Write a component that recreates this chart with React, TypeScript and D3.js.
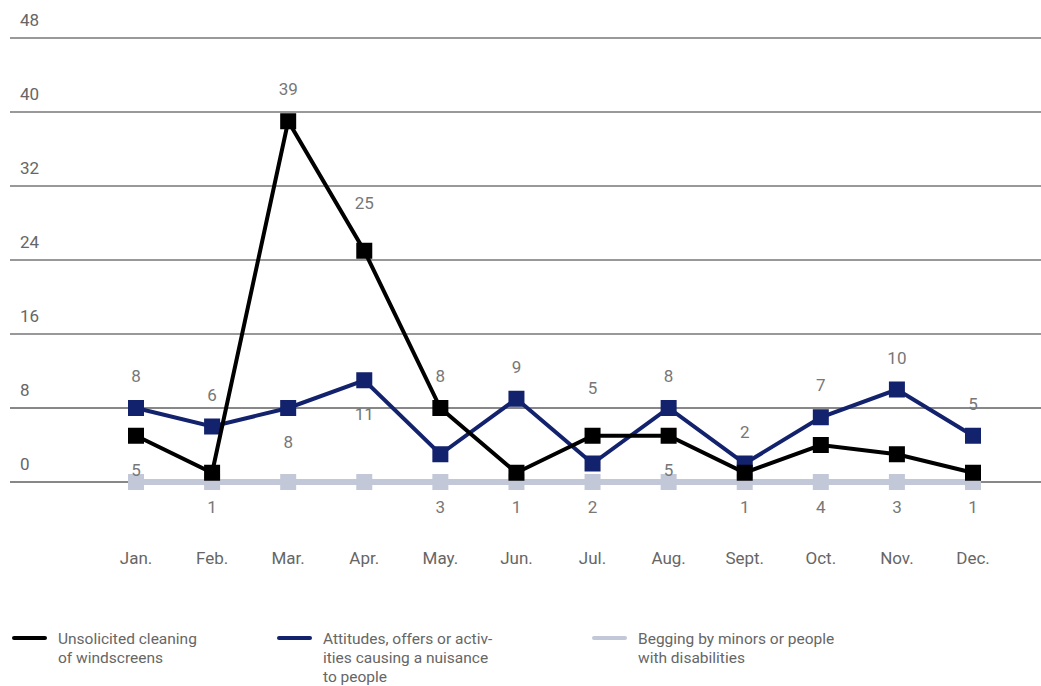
import React, { useRef, useEffect } from 'react';
import * as d3 from 'd3';

// data
const months = ['Jan.', 'Feb.', 'Mar.', 'Apr.', 'May.', 'Jun.', 'Jul.', 'Aug.', 'Sept.', 'Oct.', 'Nov.', 'Dec.'];
const windscreens = [5, 1, 39, 25, 8, 1, 5, 5, 1, 4, 3, 1];
const nuisance = [8, 6, 8, 11, 3, 9, 2, 8, 2, 7, 10, 5];
const begging = [0, 0, 0, 0, 0, 0, 0, 0, 0, 0, 0, 0];
const yTicks = [0, 8, 16, 24, 32, 40, 48];

const legendItems = [
  { lines: ['Unsolicited cleaning', 'of windscreens'], color: '#000000' },
  { lines: ['Attitudes, offers or activ-', 'ities causing a nuisance', 'to people'], color: '#13226d' },
  { lines: ['Begging by minors or people', 'with disabilities'], color: '#c3c8d8' },
];

const W = 1041;
const H = 686;
const FONT = 'Roboto, "Noto Sans", sans-serif';

export default function App() {
  const svgRef = useRef<SVGSVGElement>(null);

  useEffect(() => {
    if (!svgRef.current) return;
    const svg = d3.select(svgRef.current);
    svg.selectAll('*').remove();

    const x = d3.scalePoint<string>().domain(months).range([136, 973]);
    const y = d3.scaleLinear().domain([0, 48]).range([482, 38]);

    //grid + y labels
    yTicks.forEach(t => {
      svg.append('line')
        .attr('x1', 10).attr('x2', W)
        .attr('y1', y(t)).attr('y2', y(t))
        .attr('stroke', t >= 40 ? '#777' : t <= 8 ? '#111' : '#333')
        .attr('stroke-width', t >= 40 ? 1.5 : 1);
      svg.append('text')
        .attr('x', 20).attr('y', y(t) - 12)
        .attr('font-family', FONT).attr('font-size', 17)
        .attr('fill', '#666')
        .text(t);
    });

    // month labels
    months.forEach(m => {
      svg.append('text')
        .attr('x', x(m)!).attr('y', 564)
        .attr('text-anchor', 'middle')
        .attr('font-family', FONT).attr('font-size', 17)
        .attr('fill', '#666')
        .text(m);
    });

    const series = [
      { data: begging, color: '#c3c8d8', width: 6 },
      { data: nuisance, color: '#13226d', width: 4 },
      { data: windscreens, color: '#000000', width: 4 },
    ];

    const line = d3.line<number>()
      .x((_, i) => x(months[i])!)
      .y(d => y(d));

    series.forEach(s => {
      svg.append('path')
        .datum(s.data)
        .attr('fill', 'none')
        .attr('stroke', s.color)
        .attr('stroke-width', s.width)
        .attr('stroke-linejoin', 'miter')
        .attr('d', line);
      svg.selectAll(null)
        .data(s.data)
        .enter()
        .append('rect')
        .attr('x', (_, i) => x(months[i])! - 8)
        .attr('y', d => y(d) - 8)
        .attr('width', 16).attr('height', 16)
        .attr('fill', s.color);
    });

    // value labels: higher series above, lower below
    months.forEach((m, i) => {
      const a = windscreens[i];
      const b = nuisance[i];
      const hi = Math.max(a, b);
      const lo = Math.min(a, b);
      const steep = hi === a && (i === 3 || i === 6);
      svg.append('text')
        .attr('x', x(m)!).attr('y', y(hi) - (steep ? 42 : 26))
        .attr('text-anchor', 'middle')
        .attr('font-family', FONT).attr('font-size', 17)
        .attr('fill', '#777')
        .text(hi);
      const by = lo <= 4 ? y(0) + 31 : y(lo) + 40;
      svg.append('text')
        .attr('x', x(m)!).attr('y', by)
        .attr('text-anchor', 'middle')
        .attr('font-family', FONT).attr('font-size', 17)
        .attr('fill', '#777')
        .text(lo);
    });

    // legend
    const legendX = [12, 277, 592];
    legendItems.forEach((item, i) => {
      const g = svg.append('g').attr('transform', `translate(${legendX[i]}, 638)`);
      g.append('line')
        .attr('x1', 2).attr('x2', 33)
        .attr('y1', 0).attr('y2', 0)
        .attr('stroke', item.color)
        .attr('stroke-width', 4)
        .attr('stroke-linecap', 'round');
      item.lines.forEach((l, j) => {
        g.append('text')
          .attr('x', 46).attr('y', 6 + j * 19)
          .attr('font-family', FONT).attr('font-size', 15.5)
          .attr('fill', '#666')
          .text(l);
      });
    });
  }, []);

  return (
    <svg ref={svgRef} width={W} height={H}
      style={{ position: 'absolute', left: 0, top: 0, background: '#fff' }} />
  );
}
